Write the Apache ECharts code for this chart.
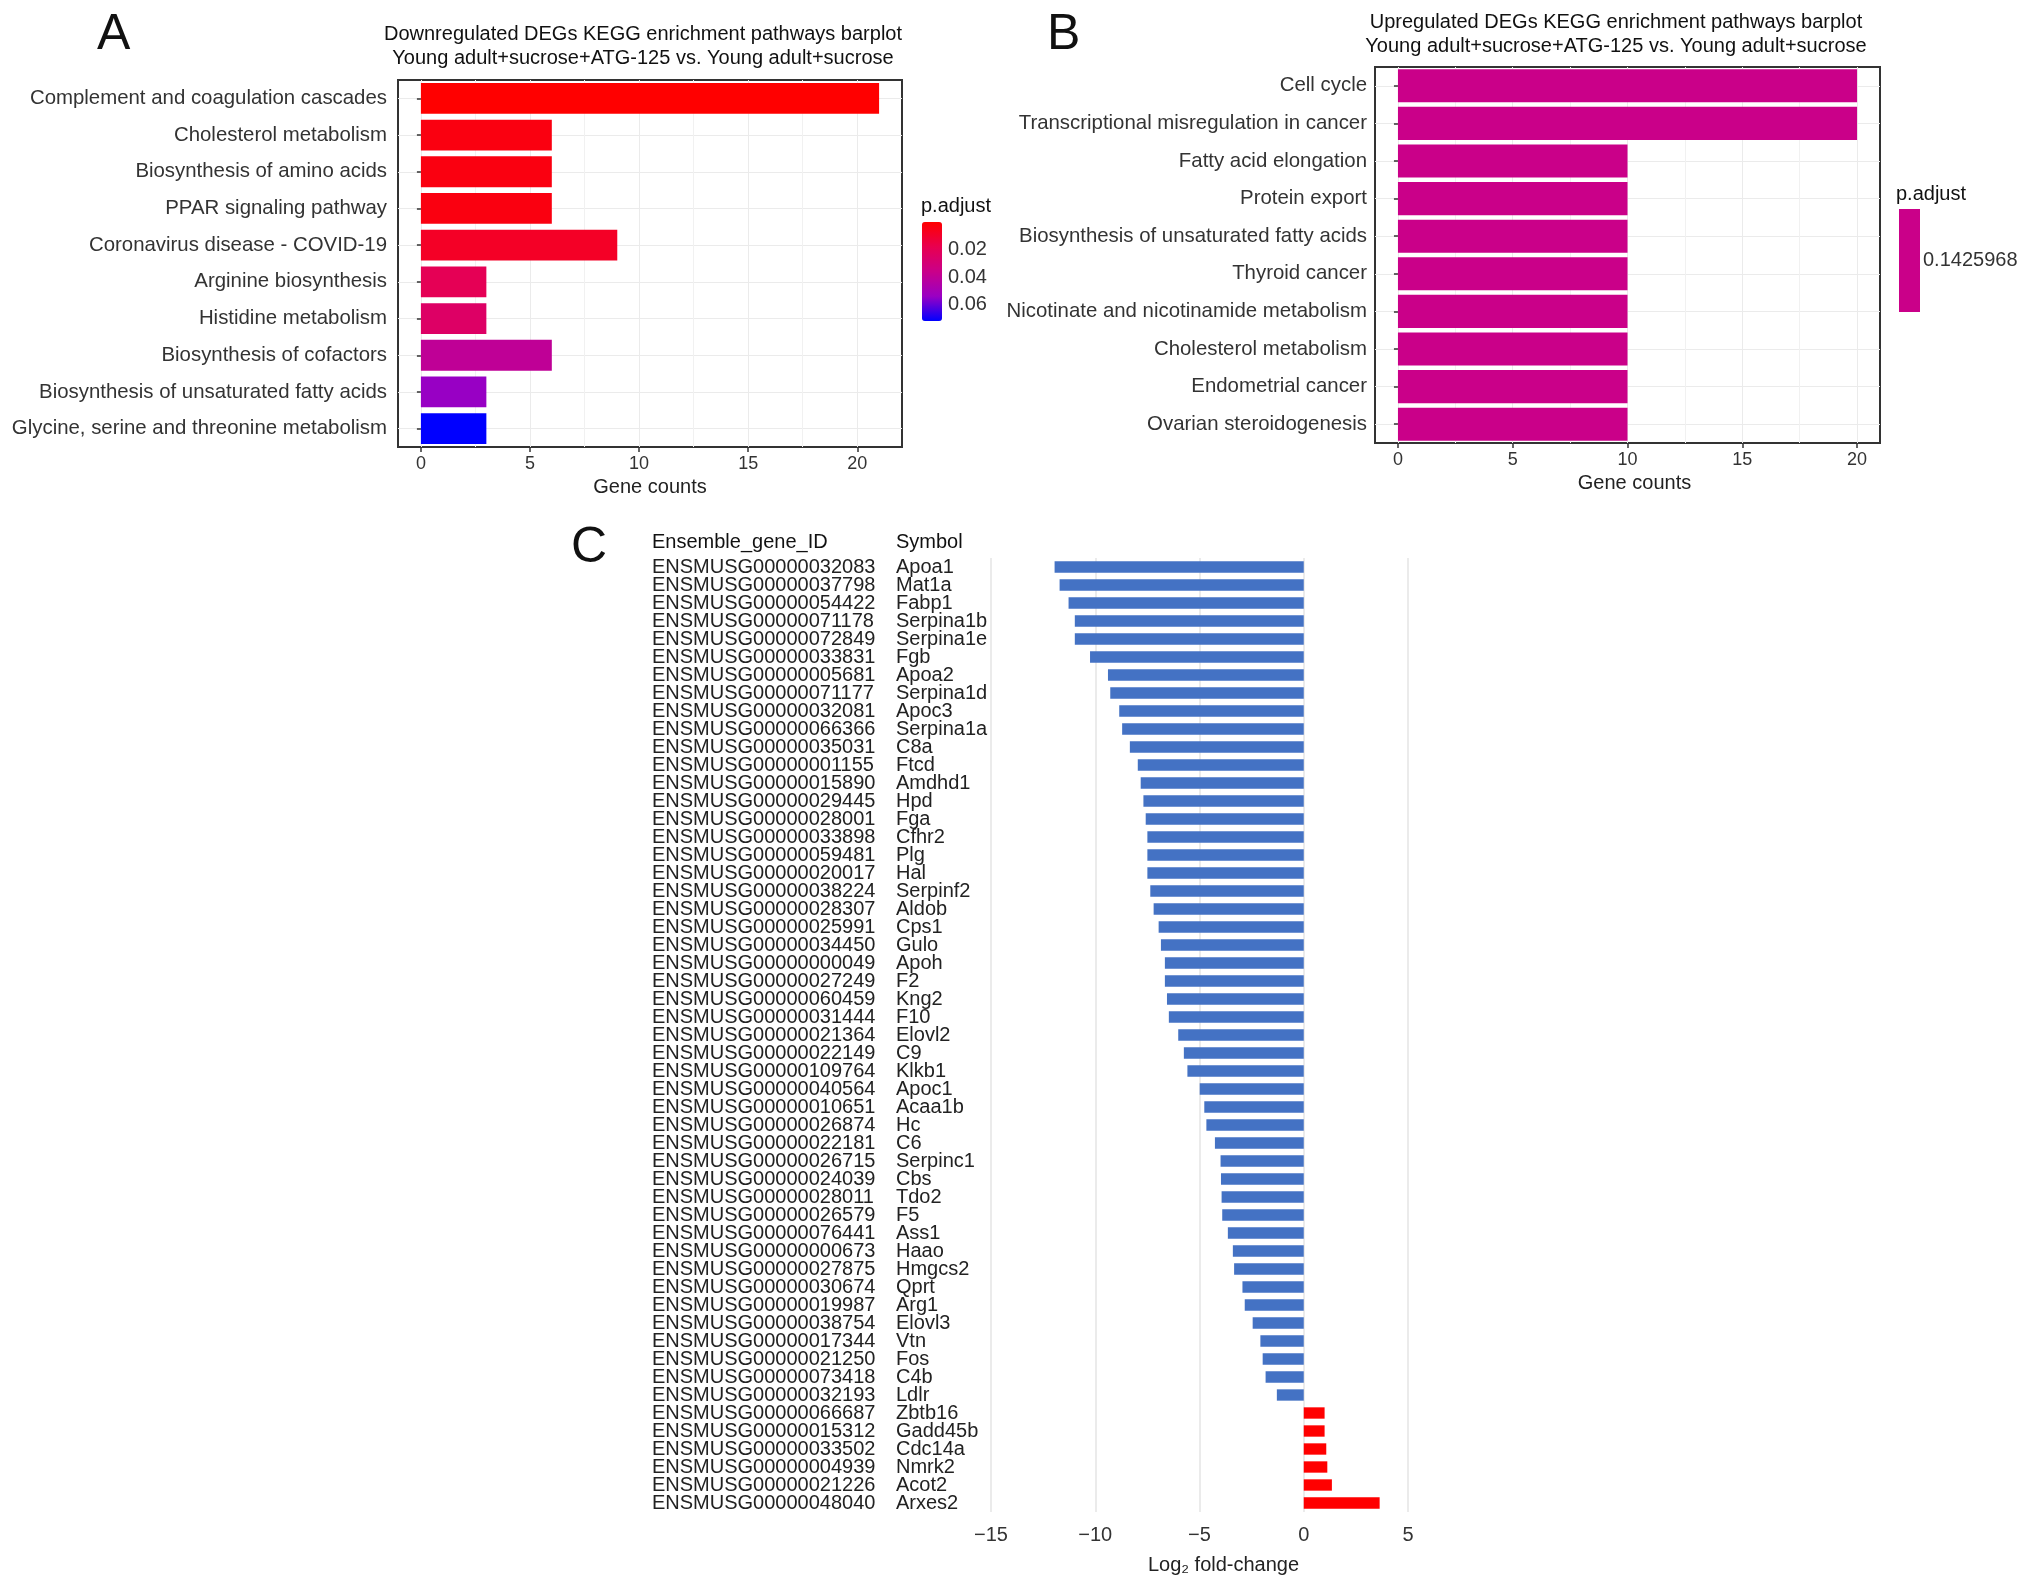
<!DOCTYPE html>
<html>
<head>
<meta charset="utf-8">
<script src="https://cdn.jsdelivr.net/npm/echarts@6/dist/echarts.min.js"></script>
<style>
  html, body { margin: 0; padding: 0; background: #fff; }
  #main { width: 2032px; height: 1594px; }
</style>
</head>
<body>
<div id="main"></div>
<script>
// ---- panel A : downregulated KEGG pathways ----
var downPathways = [
  'Complement and coagulation cascades',
  'Cholesterol metabolism',
  'Biosynthesis of amino acids',
  'PPAR signaling pathway',
  'Coronavirus disease - COVID-19',
  'Arginine biosynthesis',
  'Histidine metabolism',
  'Biosynthesis of cofactors',
  'Biosynthesis of unsaturated fatty acids',
  'Glycine, serine and threonine metabolism'
];
var downCounts = [21, 6, 6, 6, 9, 3, 3, 6, 3, 3];
var downPadj = [0.0005, 0.004, 0.004, 0.004, 0.009, 0.020, 0.025, 0.040, 0.054, 0.0715];

// ---- panel B : upregulated KEGG pathways ----
var upPathways = [
  'Cell cycle',
  'Transcriptional misregulation in cancer',
  'Fatty acid elongation',
  'Protein export',
  'Biosynthesis of unsaturated fatty acids',
  'Thyroid cancer',
  'Nicotinate and nicotinamide metabolism',
  'Cholesterol metabolism',
  'Endometrial cancer',
  'Ovarian steroidogenesis'
];
var upCounts = [20, 20, 10, 10, 10, 10, 10, 10, 10, 10];
var upPadj = [0.1425968, 0.1425968, 0.1425968, 0.1425968, 0.1425968,
              0.1425968, 0.1425968, 0.1425968, 0.1425968, 0.1425968];

// ---- panel C : genes ----
var geneIds = [
  'ENSMUSG00000032083', 'ENSMUSG00000037798', 'ENSMUSG00000054422', 'ENSMUSG00000071178',
  'ENSMUSG00000072849', 'ENSMUSG00000033831', 'ENSMUSG00000005681', 'ENSMUSG00000071177',
  'ENSMUSG00000032081', 'ENSMUSG00000066366', 'ENSMUSG00000035031', 'ENSMUSG00000001155',
  'ENSMUSG00000015890', 'ENSMUSG00000029445', 'ENSMUSG00000028001', 'ENSMUSG00000033898',
  'ENSMUSG00000059481', 'ENSMUSG00000020017', 'ENSMUSG00000038224', 'ENSMUSG00000028307',
  'ENSMUSG00000025991', 'ENSMUSG00000034450', 'ENSMUSG00000000049', 'ENSMUSG00000027249',
  'ENSMUSG00000060459', 'ENSMUSG00000031444', 'ENSMUSG00000021364', 'ENSMUSG00000022149',
  'ENSMUSG00000109764', 'ENSMUSG00000040564', 'ENSMUSG00000010651', 'ENSMUSG00000026874',
  'ENSMUSG00000022181', 'ENSMUSG00000026715', 'ENSMUSG00000024039', 'ENSMUSG00000028011',
  'ENSMUSG00000026579', 'ENSMUSG00000076441', 'ENSMUSG00000000673', 'ENSMUSG00000027875',
  'ENSMUSG00000030674', 'ENSMUSG00000019987', 'ENSMUSG00000038754', 'ENSMUSG00000017344',
  'ENSMUSG00000021250', 'ENSMUSG00000073418', 'ENSMUSG00000032193', 'ENSMUSG00000066687',
  'ENSMUSG00000015312', 'ENSMUSG00000033502', 'ENSMUSG00000004939', 'ENSMUSG00000021226',
  'ENSMUSG00000048040'
];
var geneSymbols = [
  'Apoa1', 'Mat1a', 'Fabp1', 'Serpina1b', 'Serpina1e', 'Fgb', 'Apoa2', 'Serpina1d',
  'Apoc3', 'Serpina1a', 'C8a', 'Ftcd', 'Amdhd1', 'Hpd', 'Fga', 'Cfhr2',
  'Plg', 'Hal', 'Serpinf2', 'Aldob', 'Cps1', 'Gulo', 'Apoh', 'F2',
  'Kng2', 'F10', 'Elovl2', 'C9', 'Klkb1', 'Apoc1', 'Acaa1b', 'Hc',
  'C6', 'Serpinc1', 'Cbs', 'Tdo2', 'F5', 'Ass1', 'Haao', 'Hmgcs2',
  'Qprt', 'Arg1', 'Elovl3', 'Vtn', 'Fos', 'C4b', 'Ldlr', 'Zbtb16',
  'Gadd45b', 'Cdc14a', 'Nmrk2', 'Acot2', 'Arxes2'
];
var log2fc = [
  -11.95, -11.71, -11.28, -10.98, -10.98, -10.25, -9.39, -9.28,
  -8.85, -8.71, -8.34, -7.96, -7.82, -7.69, -7.58, -7.50,
  -7.50, -7.50, -7.36, -7.20, -6.96, -6.85, -6.66, -6.66,
  -6.56, -6.47, -6.02, -5.75, -5.58, -4.99, -4.77, -4.67,
  -4.26, -3.99, -3.97, -3.94, -3.91, -3.64, -3.40, -3.34,
  -2.94, -2.83, -2.45, -2.08, -1.97, -1.83, -1.29, 1.00,
  1.00, 1.08, 1.13, 1.35, 3.64
];

// ---- ticks ----
var countTicks = [0, 5, 10, 15, 20];
var countMinorTicks = [2.5, 7.5, 12.5, 17.5];
var padjTicks = [0.02, 0.04, 0.06];

var FONT = 'Liberation Sans, Arial, Helvetica, sans-serif';
var TXT = '#333';
var GRID_LINE = '#ebebeb';

var chart = echarts.init(document.getElementById('main'), null, { renderer: 'canvas' });

function panelTitle(text, x, y, size, align) {
  return {
    text: text, left: x, top: y, padding: 0,
    textAlign: align || 'left', textVerticalAlign: 'middle',
    textStyle: { fontFamily: FONT, fontSize: size, fontWeight: 'normal', color: '#111', lineHeight: 24 }
  };
}

function countXAxis(grid, min, max, namePad) {
  return {
    gridIndex: grid, type: 'value', min: min, max: max,
    axisLine: { show: false },
    axisTick: { show: true, length: 5, lineStyle: { color: '#333', width: 1.5 }, customValues: countTicks },
    axisLabel: { customValues: countTicks, fontSize: 18, color: TXT, margin: 8, fontFamily: FONT },
    splitLine: { show: true, lineStyle: { color: GRID_LINE, width: 1 } },
    name: 'Gene counts', nameLocation: 'middle', nameGap: 30,
    nameTextStyle: { fontSize: 20, color: '#222', fontFamily: FONT, padding: [0, 0, 0, namePad] }
  };
}

function pathwayYAxis(grid, cats, margin) {
  return {
    gridIndex: grid, type: 'category', data: cats, inverse: true,
    axisLine: { show: false },
    axisTick: { show: true, alignWithLabel: true, length: 4, lineStyle: { color: '#333', width: 1.5 } },
    axisLabel: { interval: 0, fontSize: 20.4, color: TXT, margin: margin, fontFamily: FONT },
    splitLine: { show: true, alignWithLabel: true, lineStyle: { color: GRID_LINE, width: 1 } }
  };
}

function minorLines(xi, yi) {
  return {
    type: 'line', xAxisIndex: xi, yAxisIndex: yi, data: [], z: 1, silent: true,
    markLine: {
      z: 1, silent: true, symbol: 'none', label: { show: false },
      lineStyle: { color: '#f1f1f1', type: 'solid', width: 1 },
      data: countMinorTicks.map(function (v) { return { xAxis: v }; })
    }
  };
}

var option = {
  backgroundColor: '#fff',
  animation: false,
  textStyle: { fontFamily: FONT },
  title: [
    panelTitle('A', 97, 35, 50),
    panelTitle('B', 1047, 35, 50),
    panelTitle('C', 571, 548, 50),
    panelTitle('Downregulated DEGs KEGG enrichment pathways barplot\nYoung adult+sucrose+ATG-125 vs. Young adult+sucrose', 643, 46, 20, 'center'),
    panelTitle('Upregulated DEGs KEGG enrichment pathways barplot\nYoung adult+sucrose+ATG-125 vs. Young adult+sucrose', 1616, 34, 20, 'center'),
    panelTitle('p.adjust', 921, 206, 20),
    panelTitle('p.adjust', 1896, 194, 20),
    panelTitle('Ensemble_gene_ID', 652, 542, 20),
    panelTitle('Symbol', 896, 542, 20)
  ],
  grid: [
    { left: 398, top: 80, width: 504, height: 367, show: true, backgroundColor: '#fff',
      borderColor: '#333', borderWidth: 2, outerBoundsMode: 'none' },
    { left: 1375, top: 67, width: 505, height: 376, show: true, backgroundColor: '#fff',
      borderColor: '#333', borderWidth: 2, outerBoundsMode: 'none' },
    { left: 991, top: 558, width: 417, height: 954, outerBoundsMode: 'none' },
    { left: 922, top: 222, width: 20, height: 99, outerBoundsMode: 'none' }
  ],
  xAxis: [
    countXAxis(0, -1.05, 22.05, 0),
    countXAxis(1, -1, 21, 14),
    {
      gridIndex: 2, type: 'value', min: -15, max: 5, interval: 5,
      axisLine: { show: false }, axisTick: { show: false },
      axisLabel: {
        fontSize: 20, color: TXT, margin: 13, fontFamily: FONT,
        formatter: function (v) { return v < 0 ? '\u2212' + Math.abs(v) : String(v); }
      },
      splitLine: { show: true, lineStyle: { color: '#e4e4e4', width: 1.5 } },
      name: 'Log\u2082 fold-change', nameLocation: 'middle', nameGap: 43,
      nameTextStyle: { fontSize: 20, color: '#222', fontFamily: FONT, padding: [0, 0, 0, 48] }
    },
    { gridIndex: 3, type: 'value', show: false, min: 0, max: 1 }
  ],
  yAxis: [
    pathwayYAxis(0, downPathways, 11),
    pathwayYAxis(1, upPathways, 8),
    {
      gridIndex: 2, type: 'category', data: geneIds, inverse: true, position: 'left',
      axisLine: { show: false }, axisTick: { show: false }, splitLine: { show: false },
      axisLabel: { interval: 0, align: 'left', margin: 339, fontSize: 20, color: '#222', fontFamily: FONT }
    },
    {
      gridIndex: 2, type: 'category', data: geneSymbols, inverse: true, position: 'left',
      axisLine: { show: false }, axisTick: { show: false }, splitLine: { show: false },
      axisLabel: { interval: 0, align: 'left', margin: 95, fontSize: 20, color: '#222', fontFamily: FONT }
    },
    {
      gridIndex: 3, type: 'value', min: 0.0005, max: 0.0715, inverse: true, position: 'right', z: 10,
      axisLine: { show: false },
      axisTick: { show: true, inside: true, length: 4, lineStyle: { color: '#fff', width: 1 }, customValues: padjTicks },
      axisLabel: {
        customValues: padjTicks, margin: 6, fontSize: 20, color: TXT, fontFamily: FONT,
        formatter: function (v) { return v.toFixed(2); }
      },
      splitLine: { show: false }
    }
  ],
  visualMap: [
    {
      type: 'continuous', seriesIndex: 0, dimension: 2,
      min: 0.0005, max: 0.0715, inverse: true, calculable: false, hoverLink: false,
      left: 922, top: 222, itemWidth: 20, itemHeight: 99, padding: 0,
      inRange: { color: ['#ff0000', '#e8004f', '#ca0089', '#9a00c3', '#0000ff'] }
    },
    {
      type: 'piecewise', seriesIndex: 1, dimension: 2, selectedMode: false, hoverLink: false,
      pieces: [{ value: upPadj[0], label: String(upPadj[0]) }],
      orient: 'vertical', align: 'left',
      left: 1899, top: 209, itemWidth: 21, itemHeight: 103, itemSymbol: 'rect',
      padding: 0, textGap: 3,
      textStyle: { fontSize: 20, color: TXT, fontFamily: FONT },
      inRange: { color: ['#ca0089'] }
    }
  ],
  series: [
    {
      type: 'bar', xAxisIndex: 0, yAxisIndex: 0, z: 2,
      barCategoryGap: '16%',
      encode: { x: 0, y: 1 },
      data: downCounts.map(function (c, i) { return [c, downPathways[i], downPadj[i]]; })
    },
    {
      type: 'bar', xAxisIndex: 1, yAxisIndex: 1, z: 2,
      barCategoryGap: '12%',
      encode: { x: 0, y: 1 },
      data: upCounts.map(function (c, i) { return [c, upPathways[i], upPadj[i]]; })
    },
    {
      type: 'bar', xAxisIndex: 2, yAxisIndex: 2, z: 2,
      barCategoryGap: '37%',
      data: log2fc,
      itemStyle: {
        color: function (p) { return p.value < 0 ? '#4472c4' : '#ff0000'; }
      }
    },
    minorLines(0, 0),
    minorLines(1, 1)
  ]
};

chart.setOption(option);
window.addEventListener('resize', function () { chart.resize(); });
</script>
</body>
</html>
